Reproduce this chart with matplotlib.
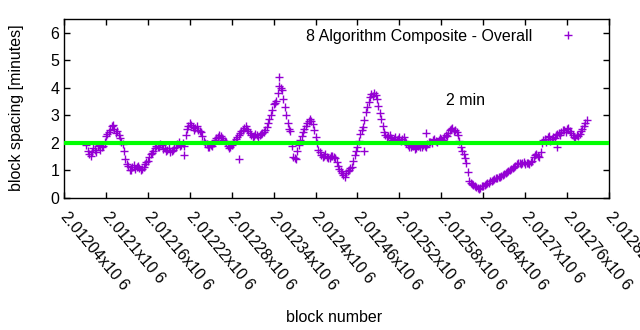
import numpy as np
import matplotlib
matplotlib.use("Agg")
import matplotlib.pyplot as plt
import matplotlib.transforms as mtransforms

plt.rcParams['font.family'] = ['Liberation Sans', 'DejaVu Sans']

# ---- data ----
start_block = 2012072
block_step = 4
spacing_minutes = [
    1.92, 1.58, 1.66, 1.75, 1.88, 1.76, 1.90, 2.25, 2.38, 2.60,
    2.50, 2.42, 2.18, 1.95, 1.40, 1.15, 1.02, 1.20, 1.12, 1.10,
    1.05, 1.22, 1.36, 1.58, 1.72, 1.90, 1.84, 1.93, 1.80, 1.76,
    1.66, 1.74, 1.86, 2.02, 1.93, 1.90, 2.52, 2.72, 2.58, 2.56,
    2.48, 2.38, 2.08, 1.96, 1.84, 1.88, 2.12, 2.22, 2.26, 2.12,
    2.02, 1.80, 1.92, 2.06, 2.22, 2.36, 2.48, 2.60, 2.42, 2.30,
    2.24, 2.30, 2.28, 2.36, 2.46, 2.72, 3.02, 3.42, 3.52, 4.05,
    3.92, 3.30, 2.72, 2.42, 1.50, 1.42, 1.92, 2.24, 2.52, 2.74,
    2.88, 2.68, 2.22, 1.76, 1.56, 1.52, 1.50, 1.46, 1.54, 1.44,
    1.16, 0.98, 0.84, 0.92, 1.02, 1.14, 1.56, 1.84, 2.32, 2.58,
    3.12, 3.48, 3.76, 3.82, 3.58, 3.08, 2.62, 2.28, 2.26, 2.18,
    2.16, 2.10, 2.20, 2.14, 2.08, 1.92, 1.84, 1.90, 1.80, 1.92,
    1.84, 1.88, 1.96, 2.04, 2.12, 2.06, 2.10, 2.16, 2.20, 2.26,
    2.46, 2.56, 2.48, 2.30, 1.84, 1.60, 1.26, 0.60, 0.50, 0.42,
    0.36, 0.38, 0.43, 0.50, 0.56, 0.62, 0.68, 0.73, 0.78, 0.82,
    0.90, 0.98, 1.06, 1.12, 1.22, 1.28, 1.26, 1.24, 1.28, 1.30,
    1.50, 1.58, 1.48, 2.00, 2.16, 2.20, 2.08, 2.22, 2.30, 2.36,
    2.40, 2.46, 2.52, 2.44, 2.30, 2.18, 2.26, 2.42, 2.62, 2.82,
]
# blocks lying halfway between the ones above (start_block + 2 + 4k)
spacing_minutes_mid = [
    1.70, 1.52, 1.80, 1.68, 1.92, 1.84, 2.05, 2.34, 2.48, 2.66,
    2.36, 2.30, 2.05, 1.70, 1.25, 1.00, 1.12, 1.06, 1.18, 1.02,
    1.14, 1.30, 1.48, 1.62, 1.82, 1.86, 1.96, 1.78, 1.70, 1.82,
    1.72, 1.80, 1.96, 1.88, 2.00, 2.30, 2.62, 2.66, 2.48, 2.60,
    2.44, 2.24, 2.00, 1.86, 1.92, 1.98, 2.18, 2.30, 2.18, 2.06,
    1.90, 1.86, 2.00, 2.14, 2.30, 2.42, 2.56, 2.50, 2.36, 2.22,
    2.32, 2.22, 2.34, 2.40, 2.58, 2.88, 3.20, 3.46, 3.80, 3.98,
    3.60, 3.02, 2.50, 1.90, 1.46, 1.72, 2.10, 2.40, 2.62, 2.80,
    2.80, 2.46, 1.98, 1.66, 1.48, 1.58, 1.44, 1.52, 1.48, 1.30,
    1.06, 0.90, 0.78, 0.98, 1.08, 1.36, 1.72, 2.08, 2.46, 2.84,
    3.30, 3.66, 3.70, 3.74, 3.34, 2.86, 2.40, 2.20, 2.30, 2.12,
    2.22, 2.16, 2.08, 2.22, 1.98, 1.86, 1.92, 1.78, 1.88, 1.86,
    1.92, 1.84, 2.02, 2.00, 2.14, 2.02, 2.18, 2.12, 2.28, 2.36,
    2.52, 2.42, 2.40, 2.06, 1.72, 1.44, 0.95, 0.55, 0.46, 0.40,
    0.34, 0.42, 0.46, 0.53, 0.60, 0.64, 0.72, 0.76, 0.80, 0.86,
    0.94, 1.02, 1.08, 1.18, 1.26, 1.24, 1.30, 1.26, 1.22, 1.36,
    1.56, 1.52, 1.66, 2.12, 2.04, 2.26, 2.14, 2.18, 2.34, 2.28,
    2.48, 2.38, 2.56, 2.36, 2.20, 2.30, 2.34, 2.50, 2.72,
]
extra_blocks = [2012347, 2012558, 2012212, 2012470, 2012745, 2012290]
extra_values = [4.40, 2.36, 1.55, 1.70, 1.85, 1.40]

xtick_values = [2012040 + 60 * k for k in range(14)]
xtick_labels = ['2.01204x10 6', '2.0121x10 6', '2.01216x10 6', '2.01222x10 6',
                '2.01228x10 6', '2.01234x10 6', '2.0124x10 6', '2.01246x10 6',
                '2.01252x10 6', '2.01258x10 6', '2.01264x10 6', '2.0127x10 6',
                '2.01276x10 6', '2.01282x10 6']
ytick_values = [0, 1, 2, 3, 4, 5, 6]
target_minutes = 2
series_label = '8 Algorithm Composite - Overall'

blocks = start_block + block_step * np.arange(len(spacing_minutes))
blocks_mid = start_block + 2 + block_step * np.arange(len(spacing_minutes_mid))

# ---- figure ----
FS = 11.5
fig = plt.figure(figsize=(6.4, 3.3), dpi=100)
ax = fig.add_axes([64/640, 1 - 198/330, (609 - 64)/640, (198 - 19)/330])

purple = '#9400D3'
mk = dict(linestyle='none', marker='+', color=purple, ms=6, mew=1.0, zorder=2)
ax.plot(blocks, spacing_minutes, label=series_label, **mk)
ax.plot(blocks_mid, spacing_minutes_mid, **mk)
ax.plot(extra_blocks, extra_values, **mk)
ax.axhline(target_minutes, color='#00ff00', lw=3, zorder=3)

ax.set_xlim(2012040, 2012820)
ax.set_ylim(0, 6.5)
ax.set_yticks(ytick_values)
ax.set_xticks(xtick_values)
ax.set_xticklabels(xtick_labels, rotation=-50, ha='left', va='top',
                   rotation_mode='anchor', fontsize=FS)
ax.tick_params(direction='in', length=4, width=1, top=True, right=True,
               labelsize=FS)
ax.tick_params(axis='x', pad=8)
offset = mtransforms.ScaledTranslation(0.05, 0, fig.dpi_scale_trans)
for lbl in ax.get_xticklabels():
    lbl.set_transform(lbl.get_transform() + offset)
for s in ax.spines.values():
    s.set_linewidth(1)

ax.set_ylabel('block spacing [minutes]', fontsize=FS)
ax.yaxis.set_label_coords((24 - 64) / 545, (198 - 108) / 179)
ax.set_xlabel('block number', fontsize=FS)
ax.xaxis.set_label_coords((334 - 64) / 545, -(310 - 198) / 179)

ax.text(2012586, 3.53, '2 min', fontsize=FS, va='center', ha='left')

leg = ax.legend(loc='upper right', frameon=False, markerfirst=False,
                fontsize=FS, handlelength=1.5, handletextpad=1.5,
                bbox_to_anchor=(0.964, 1.0), borderaxespad=0.2)

fig.savefig('out.png', dpi=100)
